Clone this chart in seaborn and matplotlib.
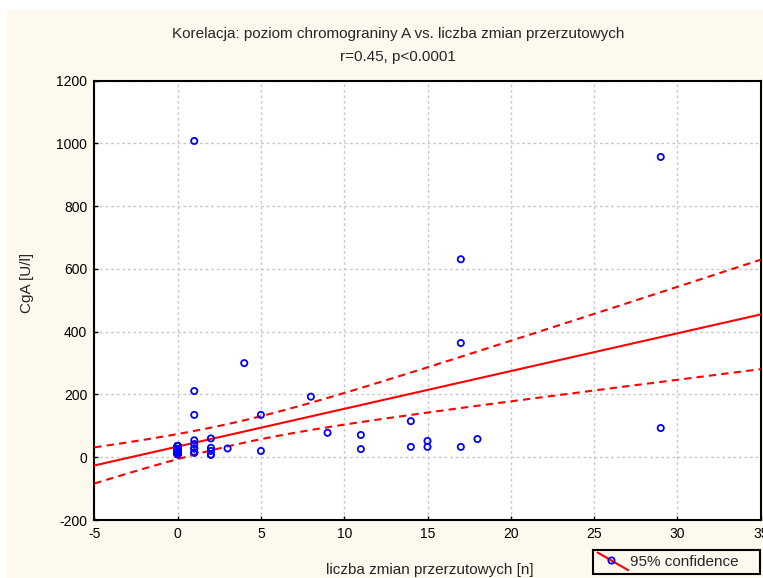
import numpy as np
import pandas as pd
import matplotlib
matplotlib.use("Agg")
import matplotlib.pyplot as plt
import seaborn as sns
from matplotlib.lines import Line2D
from matplotlib.legend_handler import HandlerBase
from matplotlib.patches import Rectangle

# ---- data (overlapping points near x=0..2 repeated) ----
x_values = ([0] * 44 +
            [1] * 10 +
            [2] * 5 +
            [3, 4, 5, 5, 8, 9, 11, 11, 14, 14, 15, 15, 17, 17, 17, 18, 29, 29])
y_values = ([36] * 6 + [25] * 12 + [17] * 12 + [10] * 14 +
            [1008, 211, 135, 54, 42, 28, 28, 15, 15, 15] +
            [60, 30, 20, 8, 8] +
            [28, 300, 135, 20, 193, 78, 71, 26, 115, 33, 52, 33, 631, 364, 33, 58, 957, 93])

title_line1 = "Korelacja: poziom chromograniny A vs. liczba zmian przerzutowych"
title_line2 = "r=0.45, p<0.0001"
x_label = "liczba zmian przerzutowych [n]"
y_label = "CgA [U/l]"
legend_label = "95% confidence"
x_ticks = [-5, 0, 5, 10, 15, 20, 25, 30, 35]
y_ticks = [-200, 0, 200, 400, 600, 800, 1000, 1200]

df = pd.DataFrame({"x": x_values, "y": y_values})

# ---- regression with 95% confidence band ----
xa = df["x"].to_numpy(float)
ya = df["y"].to_numpy(float)
n = len(xa)
slope, intercept = np.polyfit(xa, ya, 1)
xs = np.linspace(x_ticks[0], x_ticks[-1], 300)
fit = intercept + slope * xs
resid = ya - (intercept + slope * xa)
s = np.sqrt(np.sum(resid ** 2) / (n - 2))
sxx = np.sum((xa - xa.mean()) ** 2)
t_crit = 1.99
half = t_crit * s * np.sqrt(1.0 / n + (xs - xa.mean()) ** 2 / sxx)
band = pd.DataFrame({"x": xs, "fit": fit, "lo": fit - half, "hi": fit + half})

# ---- figure ----
sns.set_theme(style="white")
plt.rcParams["font.family"] = ["Liberation Sans", "DejaVu Sans"]
plt.rcParams["axes.unicode_minus"] = False

W, H = 763, 578
fig = plt.figure(figsize=(W / 100, H / 100), dpi=100)
fig.patch.set_facecolor("white")
fig.patches.append(Rectangle((7 / W, 0), 1, 1 - 10 / H, transform=fig.transFigure,
                             facecolor="#fdf9ee", edgecolor="none", zorder=-10))

ax = fig.add_axes([94.3 / W, 1 - 520 / H, (760.7 - 94.3) / W, (520 - 80.7) / H])
ax.set_facecolor("white")

sns.lineplot(data=band, x="x", y="fit", ax=ax, color="red", lw=1.5, zorder=3)
sns.lineplot(data=band, x="x", y="lo", ax=ax, color="red", lw=1.5,
             linestyle=(0, (3.5, 2.5)), zorder=3)
sns.lineplot(data=band, x="x", y="hi", ax=ax, color="red", lw=1.5,
             linestyle=(0, (3.5, 2.5)), zorder=3)
sns.scatterplot(data=df, x="x", y="y", ax=ax, marker="o", s=20,
                facecolor="none", edgecolor="blue", linewidth=1.3, zorder=4)

ax.set_xlim(x_ticks[0], x_ticks[-1])
ax.set_ylim(y_ticks[0], y_ticks[-1])
ax.set_xticks(x_ticks)
ax.set_yticks(y_ticks)
ax.grid(True, color="#c8c8c8", linestyle=(0, (2, 2)), linewidth=1)
ax.set_axisbelow(True)
ax.tick_params(direction="in", length=3, width=1, colors="black", labelsize=10,
               bottom=True, left=True, pad=5)
for sp in ax.spines.values():
    sp.set_color("black")
    sp.set_linewidth(1.5)
ax.set_xlabel("")
ax.set_ylabel("")

fig.text(398 / W, 1 - 34 / H, title_line1, ha="center", va="center", fontsize=11)
fig.text(398 / W, 1 - 57 / H, title_line2, ha="center", va="center", fontsize=11)
fig.text(430 / W, 1 - 570 / H, x_label, ha="center", va="center", fontsize=11)
fig.text(27 / W, 1 - 283 / H, y_label, ha="center", va="center", fontsize=11, rotation=90)


class DiagHandler(HandlerBase):
    def create_artists(self, legend, orig_handle, xdescent, ydescent, width,
                       height, fontsize, trans):
        x0, y0 = -xdescent, -ydescent
        line = Line2D([x0, x0 + width], [y0 + height + 2, y0 - 3],
                      color="red", lw=1.5, transform=trans)
        mark = Line2D([x0 + width * 0.45], [y0 + height * 0.5 + 0.5], marker="o",
                      mfc="none", mec="blue", mew=1.3, ms=4.5, ls="none",
                      transform=trans)
        return [line, mark]


proxy = Line2D([], [], color="red")
leg = fig.legend([proxy], [legend_label], handler_map={Line2D: DiagHandler()},
                 loc="center left", mode="expand",
                 bbox_to_anchor=(593 / W, 2 / H, 167 / W, 28 / H),
                 borderaxespad=0, fancybox=False, fontsize=11,
                 handlelength=2.0, handletextpad=0.15, borderpad=0.3,
                 facecolor="#fdf9ee", edgecolor="black", framealpha=1)
leg.get_frame().set_linewidth(1.5)

fig.savefig("out.png", dpi=100)
